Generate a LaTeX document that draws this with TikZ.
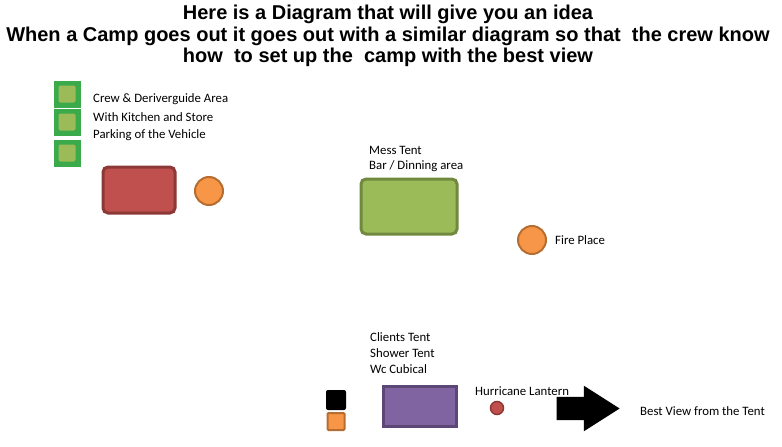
\documentclass[tikz,border=0pt]{standalone}
\usepackage{fontspec}
\setmainfont{Carlito}
\newfontfamily\titlefont{Liberation Sans}
\usetikzlibrary{shapes.arrows}

\begin{document}
\begin{tikzpicture}[x=1pt, y=-1pt,
    label text/.style={anchor=west, font=\fontsize{12.8}{15}\selectfont, inner sep=0pt},
    tent/.style={rounded corners=5pt, line width=3pt}]
    \useasboundingbox (0,0) rectangle (782,447);

    % タイトル
    \node[align=center, font=\titlefont\bfseries\fontsize{20}{21.5}\selectfont] (title) at (388,36)
        {Here is a Diagram that will give you an idea\\
         When a Camp goes out it goes out with a similar diagram so that\ \ the crew know\\
         how\ \ to set up the\ \ camp with the best view};

    % クルーエリア
    \node[rectangle, fill={rgb,255:red,58;green,170;blue,74}, minimum size=27pt, inner sep=0pt] (G1) at (67,94) {};
    \node[rectangle, fill={rgb,255:red,58;green,170;blue,74}, minimum size=27pt, inner sep=0pt] (G2) at (67,122) {};
    \node[rectangle, fill={rgb,255:red,58;green,170;blue,74}, minimum size=27pt, inner sep=0pt] (G3) at (67,153) {};
    \node[rectangle, rounded corners=2pt, fill={rgb,255:red,155;green,187;blue,89}, minimum size=17pt, inner sep=0pt] at (G1) {};
    \node[rectangle, rounded corners=2pt, fill={rgb,255:red,155;green,187;blue,89}, minimum size=17pt, inner sep=0pt] at (G2) {};
    \node[rectangle, rounded corners=2pt, fill={rgb,255:red,155;green,187;blue,89}, minimum size=17pt, inner sep=0pt] at (G3) {};
    \node[label text] (crew) at (93,99) {Crew \& Deriverguide Area};
    \node[label text] (kitchen) at (93,117) {With Kitchen and Store};
    \node[label text] (parking) at (93,135) {Parking of the Vehicle};

    \node[rectangle, tent, draw={rgb,255:red,140;green,56;blue,54}, fill={rgb,255:red,192;green,80;blue,77},
        minimum width=72pt, minimum height=46pt] (crewtent) at (139,190) {};
    \node[circle, draw={rgb,255:red,182;green,109;blue,49}, line width=2pt, fill={rgb,255:red,247;green,150;blue,70},
        minimum size=28pt, inner sep=0pt] (crewfire) at (209,191) {};

    % メステント
    \node[label text] (mess) at (369,150) {Mess Tent};
    \node[label text] (bar) at (369,166) {Bar / Dinning area};
    \node[rectangle, tent, draw={rgb,255:red,113;green,137;blue,63}, fill={rgb,255:red,155;green,187;blue,89},
        minimum width=96pt, minimum height=55pt] (messtent) at (409,206.5) {};

    % ファイアプレイス
    \node[circle, draw={rgb,255:red,182;green,109;blue,49}, line width=2pt, fill={rgb,255:red,247;green,150;blue,70},
        minimum size=28pt, inner sep=0pt] (fire) at (532,240) {};
    \node[label text] (firetext) at (555,240) {Fire Place};

    % クライアントテント
    \node[label text] (clients) at (370,337) {Clients Tent};
    \node[label text] (shower) at (370,353) {Shower Tent};
    \node[label text] (wc) at (370,369) {Wc Cubical};
    \node[rectangle, rounded corners=2pt, fill=black, minimum size=20pt, inner sep=0pt] (box) at (336,400) {};
    \node[rectangle, rounded corners=1pt, draw={rgb,255:red,182;green,109;blue,49}, line width=2pt,
        fill={rgb,255:red,247;green,150;blue,70}, minimum size=17pt, inner sep=0pt] (orange) at (336,421.5) {};
    \node[rectangle, line width=3pt, draw={rgb,255:red,92;green,71;blue,118}, fill={rgb,255:red,128;green,100;blue,162},
        minimum width=73pt, minimum height=40pt] (clienttent) at (420,406.5) {};

    % ランタンと眺め
    \node[label text] (lantern) at (475,391) {Hurricane Lantern};
    \node[circle, draw={rgb,255:red,140;green,56;blue,54}, line width=1.5pt, fill={rgb,255:red,192;green,80;blue,77},
        minimum size=13pt, inner sep=0pt] (lamp) at (497,408) {};
    \node[single arrow, fill=black, minimum height=63pt, inner xsep=0pt, inner ysep=11.5pt,
        single arrow head extend=11pt, single arrow tip angle=65, anchor=tip] (view) at (620,408.5) {};
    \node[label text] (viewtext) at (640,411) {Best View from the Tent};
\end{tikzpicture}
\end{document}
